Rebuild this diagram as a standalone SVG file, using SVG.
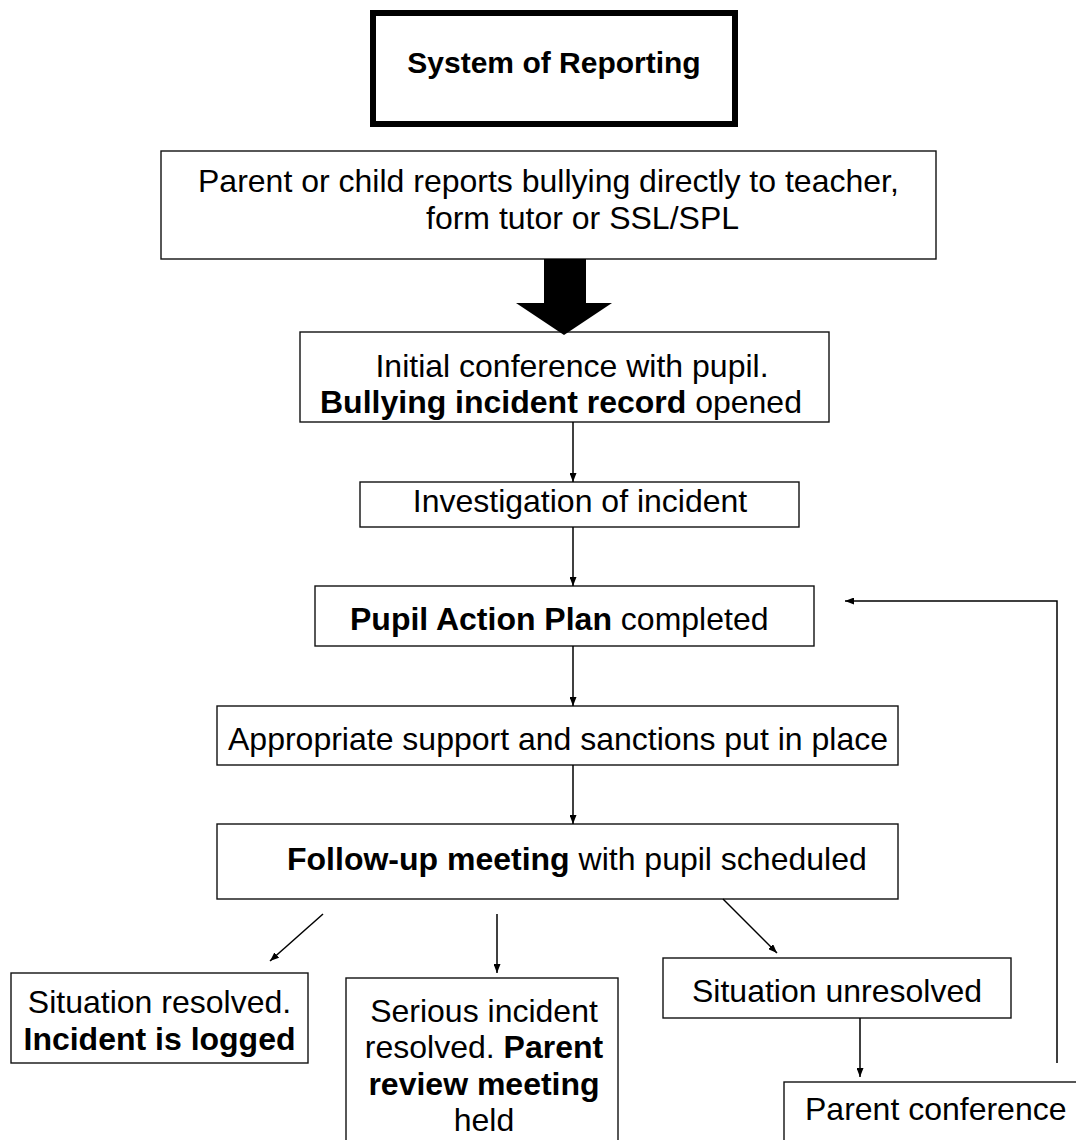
<svg xmlns="http://www.w3.org/2000/svg" width="1076" height="1140" viewBox="0 0 1076 1140">
<defs>
<style>
.box{fill:#fff;stroke:#111;stroke-width:1.4}
.t{font-family:"Liberation Sans",Arial,sans-serif;font-size:32px;fill:#000}
.b{font-weight:bold}
.ln{stroke:#000;stroke-width:1.5;fill:none}
</style>
<marker id="ah" viewBox="0 0 10 10" refX="10" refY="5" markerWidth="9" markerHeight="7" orient="auto" markerUnits="userSpaceOnUse" preserveAspectRatio="none">
<path d="M0,0 L10,5 L0,10 z" fill="#000"/>
</marker>
</defs>
<rect width="1076" height="1140" fill="#fff"/>
<g id="title">
<rect x="373" y="13" width="362" height="111" fill="#fff" stroke="#000" stroke-width="6"/>
<text class="t b" x="554" y="73" text-anchor="middle" style="font-size:30px">System of Reporting</text>
</g>
<g id="report">
<rect class="box" x="161" y="151" width="775" height="108"/>
<text class="t" x="198" y="192">Parent or child reports bullying directly to teacher,</text>
<text class="t" x="426" y="229">form tutor or SSL/SPL</text>
</g>
<g id="initial">
<rect class="box" x="300" y="332" width="529" height="90"/>
<text class="t" x="572" y="377" text-anchor="middle">Initial conference with pupil.</text>
<text class="t" x="320" y="413"><tspan class="b">Bullying incident record</tspan> opened</text>
</g>
<g id="investigation">
<rect class="box" x="360" y="482" width="439" height="45"/>
<text class="t" x="580" y="512" text-anchor="middle">Investigation of incident</text>
</g>
<g id="actionplan">
<rect class="box" x="315" y="586" width="499" height="60"/>
<text class="t" x="350" y="630"><tspan class="b">Pupil Action Plan</tspan> completed</text>
</g>
<g id="support">
<rect class="box" x="217" y="706" width="681" height="59"/>
<text class="t" x="228" y="750">Appropriate support and sanctions put in place</text>
</g>
<g id="followup">
<rect class="box" x="217" y="824" width="681" height="75"/>
<text class="t" x="287" y="870"><tspan class="b">Follow-up meeting</tspan> with pupil scheduled</text>
</g>
<g id="resolved">
<rect class="box" x="11" y="973" width="297" height="90"/>
<text class="t" x="159.5" y="1013" text-anchor="middle">Situation resolved.</text>
<text class="t b" x="159.5" y="1050" text-anchor="middle">Incident is logged</text>
</g>
<g id="serious">
<rect class="box" x="346" y="978" width="272" height="200"/>
<text class="t" x="484" y="1022" text-anchor="middle">Serious incident</text>
<text class="t" x="484" y="1058" text-anchor="middle">resolved. <tspan class="b">Parent</tspan></text>
<text class="t b" x="484" y="1095" text-anchor="middle">review meeting</text>
<text class="t" x="484" y="1131" text-anchor="middle">held</text>
</g>
<g id="unresolved">
<rect class="box" x="663" y="958" width="348" height="60"/>
<text class="t" x="837" y="1002" text-anchor="middle">Situation unresolved</text>
</g>
<g id="parentconf">
<rect class="box" x="784" y="1082" width="320" height="100"/>
<text class="t" x="805" y="1120">Parent conference</text>
</g>
<g id="connectors">
<polygon points="544,259 586,259 586,303 612,303 564,335 516,303 544,303" fill="#000"/>
<line class="ln" x1="573" y1="422" x2="573" y2="482" marker-end="url(#ah)"/>
<line class="ln" x1="573" y1="527" x2="573" y2="586" marker-end="url(#ah)"/>
<line class="ln" x1="573" y1="646" x2="573" y2="706" marker-end="url(#ah)"/>
<line class="ln" x1="573" y1="765" x2="573" y2="824" marker-end="url(#ah)"/>
<line class="ln" x1="323" y1="914" x2="270" y2="961" marker-end="url(#ah)"/>
<line class="ln" x1="497" y1="914" x2="497" y2="973" marker-end="url(#ah)"/>
<line class="ln" x1="723" y1="899" x2="777" y2="953" marker-end="url(#ah)"/>
<line class="ln" x1="860" y1="1018" x2="860" y2="1077" marker-end="url(#ah)"/>
<polyline class="ln" points="1057,1063 1057,601 845,601" marker-end="url(#ah)"/>
</g>
</svg>
